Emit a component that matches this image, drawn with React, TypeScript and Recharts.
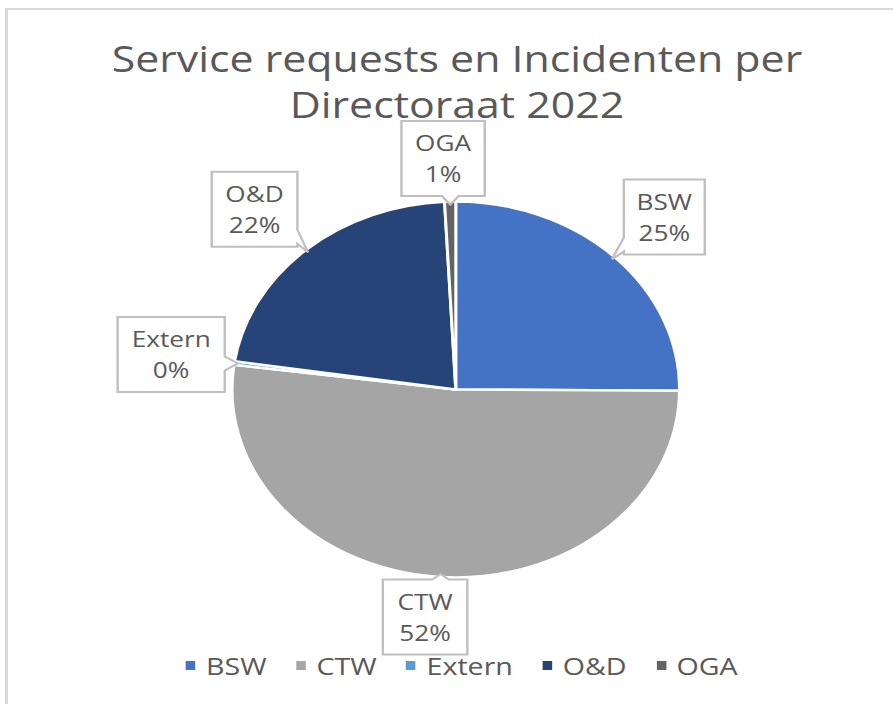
import { PieChart, Pie, Cell, Legend } from 'recharts';

const categories = ['BSW', 'CTW', 'Extern', 'O&D', 'OGA'];
const shares = [25.1, 52.0, 0.3, 21.8, 0.8];
const colors = ['#4472C4', '#A5A5A5', '#5B9BD5', '#264478', '#636363'];

const pieData = categories.map((name, i) => ({ name, value: shares[i] }));

// the source picture is stretched horizontally, so everything is drawn narrow and scaled
const STRETCH = 1.19;
const FONT = '"Open Sans", sans-serif';
const TEXT = '#595959';

// callout boxes: offset of the box centre from the slice edge, and box width
const callouts = [
  { dx: 44, dy: -42, w: 68 },
  { dx: -13, dy: 43, w: 71 },
  { dx: -56, dy: -9, w: 90 },
  { dx: -45, dy: -43, w: 72 },
  { dx: -6, dy: -46, w: 70 },
];
const BOX_H = 75;

function calloutPath(x0: number, y0: number, x1: number, y1: number, tx: number, ty: number) {
  const bx = (x0 + x1) / 2;
  const by = (y0 + y1) / 2;
  const nx = (tx - bx) / ((x1 - x0) / 2);
  const ny = (ty - by) / ((y1 - y0) / 2);
  const half = 7;
  const clamp = (v: number, a: number, b: number) => Math.max(a, Math.min(b, v));
  if (Math.abs(ny) >= Math.abs(nx)) {
    const c = clamp(tx, x0 + 3 + half, x1 - 3 - half);
    if (ny > 0) {
      return `M${x0},${y0} L${x1},${y0} L${x1},${y1} L${c + half},${y1} L${tx},${ty} L${c - half},${y1} L${x0},${y1} Z`;
    }
    return `M${x0},${y0} L${c - half},${y0} L${tx},${ty} L${c + half},${y0} L${x1},${y0} L${x1},${y1} L${x0},${y1} Z`;
  }
  const c = clamp(ty, y0 + 3 + half, y1 - 3 - half);
  if (nx > 0) {
    return `M${x0},${y0} L${x1},${y0} L${x1},${c - half} L${tx},${ty} L${x1},${c + half} L${x1},${y1} L${x0},${y1} Z`;
  }
  return `M${x0},${y0} L${x1},${y0} L${x1},${y1} L${x0},${y1} L${x0},${c + half} L${tx},${ty} L${x0},${c - half} Z`;
}

const renderLabel = (props: any) => {
  const { cx, cy, midAngle, outerRadius, percent, name, index } = props;
  const rad = (Math.PI / 180) * midAngle;
  const tx = cx + (outerRadius - 3) * Math.cos(rad);
  const ty = cy - (outerRadius - 3) * Math.sin(rad);
  const c = callouts[index];
  const bx = tx + c.dx;
  const by = ty + c.dy;
  const x0 = bx - c.w / 2;
  const x1 = bx + c.w / 2;
  const y0 = by - BOX_H / 2;
  const y1 = by + BOX_H / 2;
  return (
    <g>
      <path d={calloutPath(x0, y0, x1, y1, tx, ty)} fill="#fff" stroke="#BFBFBF" strokeWidth={2} />
      <text x={bx} y={by - 16} textAnchor="middle" dominantBaseline="central" fill={TEXT} fontSize={22} fontFamily={FONT}>
        {name}
      </text>
      <text x={bx} y={by + 15} textAnchor="middle" dominantBaseline="central" fill={TEXT} fontSize={22} fontFamily={FONT}>
        {`${Math.round(percent * 100)}%`}
      </text>
    </g>
  );
};

const renderLegend = (props: any) => {
  const { payload } = props;
  return (
    <div style={{ display: 'flex', justifyContent: 'center', gap: 25, fontFamily: FONT, fontSize: 24, color: TEXT }}>
      {payload.map((entry: any) => (
        <span key={entry.value} style={{ display: 'flex', alignItems: 'center' }}>
          <span style={{ width: 8, height: 9, background: entry.color, marginRight: 9, display: 'inline-block' }} />
          {entry.value}
        </span>
      ))}
    </div>
  );
};

export default function App() {
  return (
    <div style={{ position: 'relative', width: 893, height: 704, overflow: 'hidden', background: '#fff' }}>
      <style>{'body{margin:0}'}</style>
      <div
        style={{
          position: 'absolute',
          left: 5,
          top: 8,
          right: 0,
          bottom: 0,
          borderTop: '2px solid #D9D9D9',
          borderLeft: '3px solid #D9D9D9',
        }}
      />
      <div
        style={{
          position: 'absolute',
          left: 0,
          top: 0,
          width: 750,
          height: 704,
          transform: `scaleX(${STRETCH})`,
          transformOrigin: '0 0',
        }}
      >
        <div
          style={{
            position: 'absolute',
            left: 0,
            top: 36,
            width: 768,
            textAlign: 'center',
            fontFamily: FONT,
            fontSize: 36,
            lineHeight: '46px',
            color: TEXT,
          }}
        >
          Service requests en Incidenten per
          <br />
          Directoraat 2022
        </div>
        <PieChart width={750} height={704} margin={{ top: 0, right: 0, bottom: 0, left: 0 }}>
          <Pie
            data={pieData}
            dataKey="value"
            nameKey="name"
            cx={383}
            cy={389.5}
            outerRadius={188}
            startAngle={90}
            endAngle={-270}
            stroke="#fff"
            strokeWidth={2.5}
            label={renderLabel}
            labelLine={false}
            isAnimationActive={false}
          >
            {pieData.map((entry, index) => (
              <Cell key={`cell-${index}`} fill={colors[index]} />
            ))}
          </Pie>
          <Legend content={renderLegend} wrapperStyle={{ top: 649, left: 13, width: 750 }} />
        </PieChart>
      </div>
    </div>
  );
}
